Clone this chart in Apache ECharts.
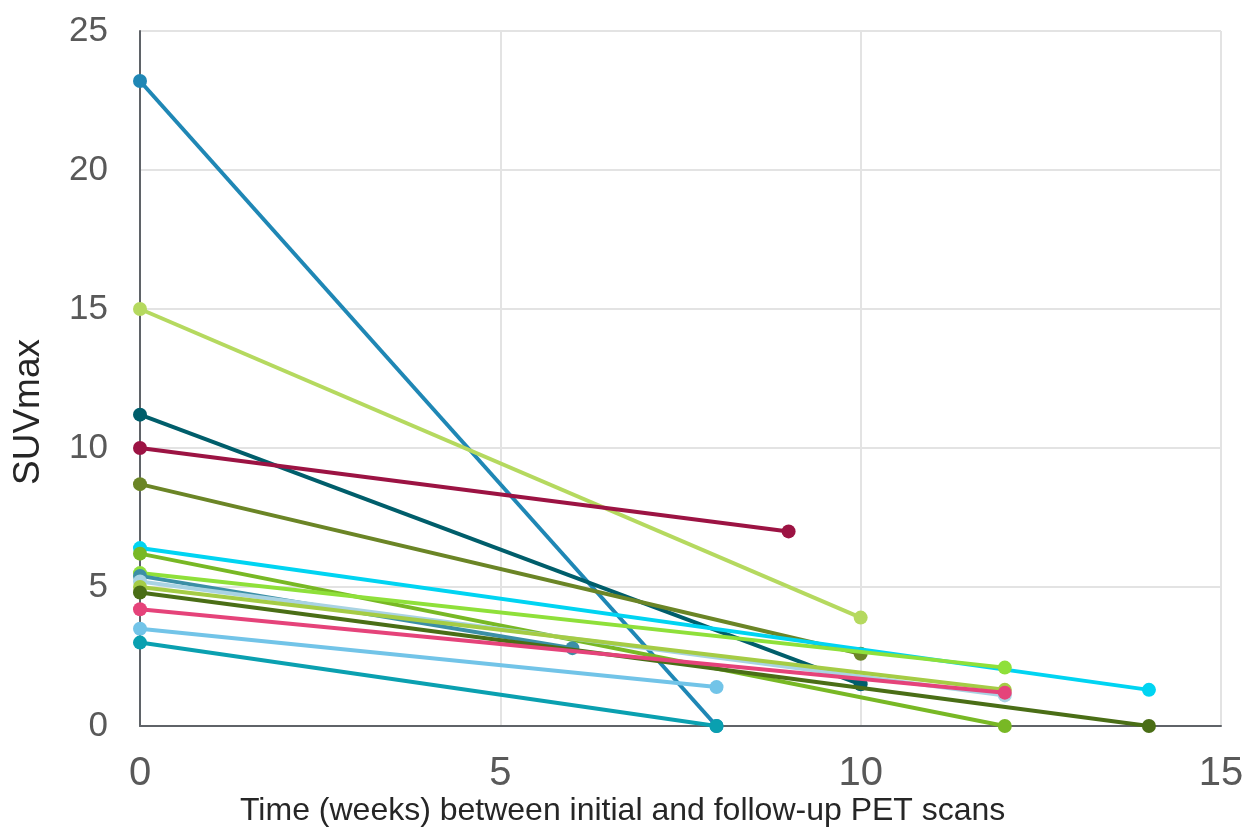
<!DOCTYPE html>
<html>
<head>
<meta charset="utf-8">
<script src="https://cdn.jsdelivr.net/npm/echarts@6/dist/echarts.min.js"></script>
<style>html,body{margin:0;padding:0;background:#fff}#c{width:1249px;height:834px}</style>
</head>
<body>
<div id="c"></div>
<script>
const initialWeek = 0;
const initialSUV = [23.2, 15.0, 11.2, 10.0, 8.7, 6.4, 6.2, 5.5, 5.4, 5.2, 5.0, 4.8, 4.2, 3.5, 3.0];
const followWeeks = [8, 10, 10, 9, 10, 14, 12, 12, 6, 12, 12, 14, 12, 8, 8];
const followSUV = [0.0, 3.9, 1.5, 7.0, 2.6, 1.3, 0.0, 2.1, 2.8, 1.1, 1.3, 0.0, 1.2, 1.4, 0.0];
const xTicks = [0, 5, 10, 15];
const yTicks = [0, 5, 10, 15, 20, 25];
const colors = ['#1f87b5', '#b5d95f', '#005e6b', '#9c1343', '#6b8526', '#00d4f2', '#78b825', '#8fe03a',
  '#3b8fa6', '#a9d3e3', '#a5cc45', '#4a6e16', '#e5437a', '#72c4e8', '#0aa0b0'];

const series = initialSUV.map((v, i) => ({
  type: 'line',
  data: [[initialWeek, v], [followWeeks[i], followSUV[i]]],
  symbol: 'circle',
  symbolSize: 14,
  lineStyle: { width: 4, color: colors[i] },
  itemStyle: { color: colors[i] },
  z: 2 + i,
  animation: false
}));

const chart = echarts.init(document.getElementById('c'));
chart.setOption({
  animation: false,
  grid: { left: 140, right: 28, top: 31, bottom: 108, containLabel: false },
  xAxis: {
    type: 'value', min: xTicks[0], max: xTicks[xTicks.length - 1], interval: 5,
    axisLine: { show: true, lineStyle: { color: '#5f6368', width: 2 } },
    axisTick: { show: false },
    splitLine: { show: true, lineStyle: { color: '#e3e3e3', width: 2 } },
    axisLabel: { color: '#595959', fontSize: 40, fontFamily: 'Liberation Sans, Arial, sans-serif', margin: 28 }
  },
  yAxis: {
    type: 'value', min: yTicks[0], max: yTicks[yTicks.length - 1], interval: 5,
    axisLine: { show: true, lineStyle: { color: '#5f6368', width: 2 } },
    axisTick: { show: false },
    splitLine: { show: true, lineStyle: { color: '#e3e3e3', width: 2 } },
    axisLabel: { color: '#595959', fontSize: 35, fontFamily: 'Liberation Sans, Arial, sans-serif', margin: 32 }
  },
  graphic: [{
    type: 'text', x: 29, y: 412, rotation: Math.PI / 2,
    style: { text: 'SUVmax', fill: '#262626', fontSize: 37, align: 'center', verticalAlign: 'middle',
      fontFamily: 'Liberation Sans, Arial, sans-serif' }
  }, {
    type: 'text', left: 240, top: 795,
    style: { text: 'Time (weeks) between initial and follow-up PET scans', fill: '#262626', fontSize: 32,
      fontFamily: 'Liberation Sans, Arial, sans-serif' }
  }],
  series: series
});
</script>
</body>
</html>
